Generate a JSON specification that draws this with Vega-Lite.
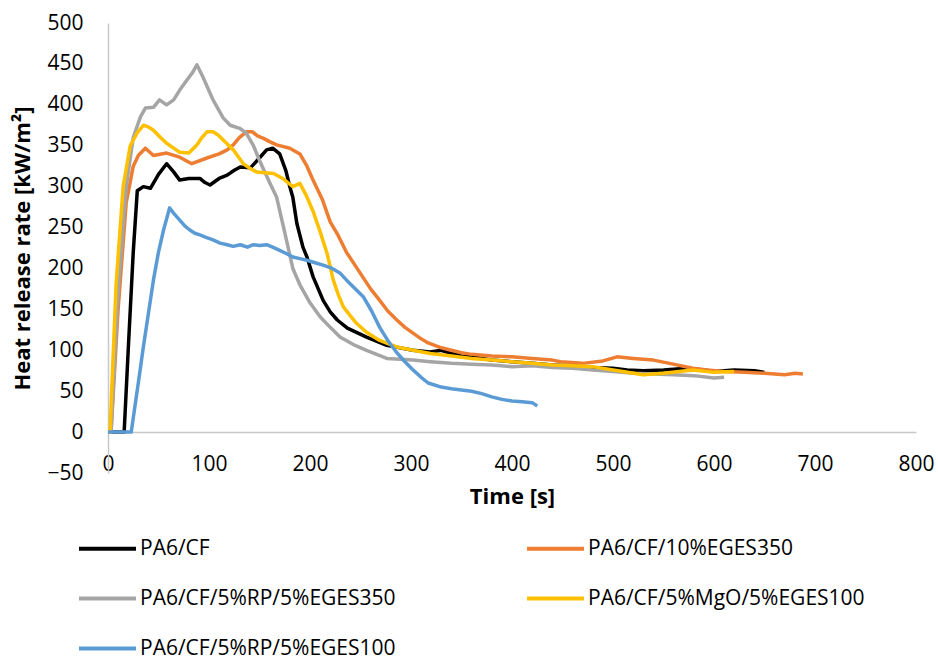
{
  "$schema": "https://vega.github.io/schema/vega-lite/v6.json",
  "width": 808,
  "height": 450,
  "autosize": {"type": "none"},
  "padding": {"left": 108, "top": 23, "right": 22, "bottom": 189},
  "config": {
    "font": "Open Sans",
    "view": {"stroke": null},
    "axis": {"grid": false, "ticks": false, "tickSize": 0, "labelColor": "#000000", "titleColor": "#000000", "domainColor": "#C8C8C8", "domainWidth": 1.5}
  },
  "datasets": {
    "hrr": [
      {"s":"PA6/CF","t":0,"v":0},{"s":"PA6/CF","t":10,"v":0},{"s":"PA6/CF","t":16,"v":0},{"s":"PA6/CF","t":20,"v":100},{"s":"PA6/CF","t":25,"v":220},{"s":"PA6/CF","t":29,"v":295},{"s":"PA6/CF","t":35,"v":300},{"s":"PA6/CF","t":42,"v":298},{"s":"PA6/CF","t":50,"v":315},{"s":"PA6/CF","t":58,"v":328},{"s":"PA6/CF","t":65,"v":318},{"s":"PA6/CF","t":71,"v":308},{"s":"PA6/CF","t":80,"v":310},{"s":"PA6/CF","t":91,"v":310},{"s":"PA6/CF","t":96,"v":305},{"s":"PA6/CF","t":101,"v":302},{"s":"PA6/CF","t":110,"v":310},{"s":"PA6/CF","t":118,"v":314},{"s":"PA6/CF","t":125,"v":320},{"s":"PA6/CF","t":131,"v":324},{"s":"PA6/CF","t":141,"v":323},{"s":"PA6/CF","t":150,"v":335},{"s":"PA6/CF","t":157,"v":345},{"s":"PA6/CF","t":163,"v":347},{"s":"PA6/CF","t":170,"v":340},{"s":"PA6/CF","t":176,"v":320},{"s":"PA6/CF","t":180,"v":300},{"s":"PA6/CF","t":183,"v":287},{"s":"PA6/CF","t":187,"v":255},{"s":"PA6/CF","t":193,"v":226},{"s":"PA6/CF","t":197,"v":214},{"s":"PA6/CF","t":203,"v":190},{"s":"PA6/CF","t":213,"v":161},{"s":"PA6/CF","t":220,"v":147},{"s":"PA6/CF","t":227,"v":137},{"s":"PA6/CF","t":237,"v":127},{"s":"PA6/CF","t":256,"v":116},{"s":"PA6/CF","t":276,"v":106},{"s":"PA6/CF","t":302,"v":100},{"s":"PA6/CF","t":319,"v":98},{"s":"PA6/CF","t":330,"v":100},{"s":"PA6/CF","t":340,"v":96},{"s":"PA6/CF","t":350,"v":93},{"s":"PA6/CF","t":360,"v":92},{"s":"PA6/CF","t":370,"v":90},{"s":"PA6/CF","t":380,"v":88},{"s":"PA6/CF","t":400,"v":86},{"s":"PA6/CF","t":420,"v":84},{"s":"PA6/CF","t":440,"v":82},{"s":"PA6/CF","t":460,"v":81},{"s":"PA6/CF","t":480,"v":79},{"s":"PA6/CF","t":500,"v":78},{"s":"PA6/CF","t":514,"v":76},{"s":"PA6/CF","t":530,"v":75},{"s":"PA6/CF","t":550,"v":76},{"s":"PA6/CF","t":573,"v":78},{"s":"PA6/CF","t":590,"v":76},{"s":"PA6/CF","t":600,"v":74},{"s":"PA6/CF","t":620,"v":76},{"s":"PA6/CF","t":640,"v":75},{"s":"PA6/CF","t":650,"v":73},
      {"s":"PA6/CF/10%EGES350","t":0,"v":0},{"s":"PA6/CF/10%EGES350","t":3,"v":0},{"s":"PA6/CF/10%EGES350","t":10,"v":150},{"s":"PA6/CF/10%EGES350","t":18,"v":280},{"s":"PA6/CF/10%EGES350","t":25,"v":325},{"s":"PA6/CF/10%EGES350","t":30,"v":338},{"s":"PA6/CF/10%EGES350","t":37,"v":347},{"s":"PA6/CF/10%EGES350","t":45,"v":338},{"s":"PA6/CF/10%EGES350","t":58,"v":341},{"s":"PA6/CF/10%EGES350","t":71,"v":336},{"s":"PA6/CF/10%EGES350","t":83,"v":328},{"s":"PA6/CF/10%EGES350","t":98,"v":335},{"s":"PA6/CF/10%EGES350","t":110,"v":340},{"s":"PA6/CF/10%EGES350","t":118,"v":345},{"s":"PA6/CF/10%EGES350","t":124,"v":351},{"s":"PA6/CF/10%EGES350","t":130,"v":360},{"s":"PA6/CF/10%EGES350","t":137,"v":367},{"s":"PA6/CF/10%EGES350","t":143,"v":367},{"s":"PA6/CF/10%EGES350","t":148,"v":362},{"s":"PA6/CF/10%EGES350","t":154,"v":359},{"s":"PA6/CF/10%EGES350","t":160,"v":355},{"s":"PA6/CF/10%EGES350","t":167,"v":351},{"s":"PA6/CF/10%EGES350","t":180,"v":347},{"s":"PA6/CF/10%EGES350","t":190,"v":340},{"s":"PA6/CF/10%EGES350","t":197,"v":325},{"s":"PA6/CF/10%EGES350","t":203,"v":308},{"s":"PA6/CF/10%EGES350","t":212,"v":285},{"s":"PA6/CF/10%EGES350","t":220,"v":257},{"s":"PA6/CF/10%EGES350","t":228,"v":240},{"s":"PA6/CF/10%EGES350","t":236,"v":220},{"s":"PA6/CF/10%EGES350","t":244,"v":205},{"s":"PA6/CF/10%EGES350","t":252,"v":190},{"s":"PA6/CF/10%EGES350","t":260,"v":175},{"s":"PA6/CF/10%EGES350","t":269,"v":161},{"s":"PA6/CF/10%EGES350","t":277,"v":148},{"s":"PA6/CF/10%EGES350","t":286,"v":137},{"s":"PA6/CF/10%EGES350","t":294,"v":128},{"s":"PA6/CF/10%EGES350","t":302,"v":121},{"s":"PA6/CF/10%EGES350","t":310,"v":114},{"s":"PA6/CF/10%EGES350","t":317,"v":109},{"s":"PA6/CF/10%EGES350","t":330,"v":103},{"s":"PA6/CF/10%EGES350","t":340,"v":100},{"s":"PA6/CF/10%EGES350","t":350,"v":97},{"s":"PA6/CF/10%EGES350","t":360,"v":95},{"s":"PA6/CF/10%EGES350","t":380,"v":93},{"s":"PA6/CF/10%EGES350","t":400,"v":92},{"s":"PA6/CF/10%EGES350","t":420,"v":90},{"s":"PA6/CF/10%EGES350","t":440,"v":88},{"s":"PA6/CF/10%EGES350","t":448,"v":86},{"s":"PA6/CF/10%EGES350","t":470,"v":84},{"s":"PA6/CF/10%EGES350","t":490,"v":87},{"s":"PA6/CF/10%EGES350","t":504,"v":92},{"s":"PA6/CF/10%EGES350","t":520,"v":90},{"s":"PA6/CF/10%EGES350","t":540,"v":88},{"s":"PA6/CF/10%EGES350","t":556,"v":84},{"s":"PA6/CF/10%EGES350","t":579,"v":78},{"s":"PA6/CF/10%EGES350","t":593,"v":76},{"s":"PA6/CF/10%EGES350","t":610,"v":74},{"s":"PA6/CF/10%EGES350","t":630,"v":73},{"s":"PA6/CF/10%EGES350","t":650,"v":72},{"s":"PA6/CF/10%EGES350","t":670,"v":70},{"s":"PA6/CF/10%EGES350","t":680,"v":72},{"s":"PA6/CF/10%EGES350","t":688,"v":71},
      {"s":"PA6/CF/5%RP/5%EGES350","t":0,"v":0},{"s":"PA6/CF/5%RP/5%EGES350","t":3,"v":0},{"s":"PA6/CF/5%RP/5%EGES350","t":10,"v":170},{"s":"PA6/CF/5%RP/5%EGES350","t":18,"v":300},{"s":"PA6/CF/5%RP/5%EGES350","t":25,"v":360},{"s":"PA6/CF/5%RP/5%EGES350","t":32,"v":385},{"s":"PA6/CF/5%RP/5%EGES350","t":37,"v":396},{"s":"PA6/CF/5%RP/5%EGES350","t":45,"v":397},{"s":"PA6/CF/5%RP/5%EGES350","t":51,"v":406},{"s":"PA6/CF/5%RP/5%EGES350","t":58,"v":400},{"s":"PA6/CF/5%RP/5%EGES350","t":65,"v":406},{"s":"PA6/CF/5%RP/5%EGES350","t":71,"v":418},{"s":"PA6/CF/5%RP/5%EGES350","t":78,"v":430},{"s":"PA6/CF/5%RP/5%EGES350","t":84,"v":440},{"s":"PA6/CF/5%RP/5%EGES350","t":88,"v":449},{"s":"PA6/CF/5%RP/5%EGES350","t":94,"v":434},{"s":"PA6/CF/5%RP/5%EGES350","t":99,"v":420},{"s":"PA6/CF/5%RP/5%EGES350","t":104,"v":406},{"s":"PA6/CF/5%RP/5%EGES350","t":109,"v":395},{"s":"PA6/CF/5%RP/5%EGES350","t":114,"v":384},{"s":"PA6/CF/5%RP/5%EGES350","t":121,"v":375},{"s":"PA6/CF/5%RP/5%EGES350","t":131,"v":371},{"s":"PA6/CF/5%RP/5%EGES350","t":137,"v":365},{"s":"PA6/CF/5%RP/5%EGES350","t":144,"v":350},{"s":"PA6/CF/5%RP/5%EGES350","t":150,"v":332},{"s":"PA6/CF/5%RP/5%EGES350","t":160,"v":305},{"s":"PA6/CF/5%RP/5%EGES350","t":167,"v":287},{"s":"PA6/CF/5%RP/5%EGES350","t":177,"v":233},{"s":"PA6/CF/5%RP/5%EGES350","t":183,"v":200},{"s":"PA6/CF/5%RP/5%EGES350","t":190,"v":180},{"s":"PA6/CF/5%RP/5%EGES350","t":200,"v":158},{"s":"PA6/CF/5%RP/5%EGES350","t":210,"v":141},{"s":"PA6/CF/5%RP/5%EGES350","t":220,"v":128},{"s":"PA6/CF/5%RP/5%EGES350","t":230,"v":116},{"s":"PA6/CF/5%RP/5%EGES350","t":243,"v":107},{"s":"PA6/CF/5%RP/5%EGES350","t":256,"v":100},{"s":"PA6/CF/5%RP/5%EGES350","t":266,"v":95},{"s":"PA6/CF/5%RP/5%EGES350","t":276,"v":90},{"s":"PA6/CF/5%RP/5%EGES350","t":290,"v":89},{"s":"PA6/CF/5%RP/5%EGES350","t":302,"v":88},{"s":"PA6/CF/5%RP/5%EGES350","t":319,"v":86},{"s":"PA6/CF/5%RP/5%EGES350","t":340,"v":84},{"s":"PA6/CF/5%RP/5%EGES350","t":360,"v":83},{"s":"PA6/CF/5%RP/5%EGES350","t":380,"v":82},{"s":"PA6/CF/5%RP/5%EGES350","t":400,"v":80},{"s":"PA6/CF/5%RP/5%EGES350","t":420,"v":81},{"s":"PA6/CF/5%RP/5%EGES350","t":440,"v":79},{"s":"PA6/CF/5%RP/5%EGES350","t":460,"v":78},{"s":"PA6/CF/5%RP/5%EGES350","t":480,"v":76},{"s":"PA6/CF/5%RP/5%EGES350","t":500,"v":74},{"s":"PA6/CF/5%RP/5%EGES350","t":520,"v":72},{"s":"PA6/CF/5%RP/5%EGES350","t":540,"v":71},{"s":"PA6/CF/5%RP/5%EGES350","t":560,"v":70},{"s":"PA6/CF/5%RP/5%EGES350","t":580,"v":69},{"s":"PA6/CF/5%RP/5%EGES350","t":600,"v":66},{"s":"PA6/CF/5%RP/5%EGES350","t":610,"v":67},
      {"s":"PA6/CF/5%MgO/5%EGES100","t":0,"v":0},{"s":"PA6/CF/5%MgO/5%EGES100","t":2,"v":0},{"s":"PA6/CF/5%MgO/5%EGES100","t":8,"v":180},{"s":"PA6/CF/5%MgO/5%EGES100","t":15,"v":300},{"s":"PA6/CF/5%MgO/5%EGES100","t":22,"v":350},{"s":"PA6/CF/5%MgO/5%EGES100","t":29,"v":366},{"s":"PA6/CF/5%MgO/5%EGES100","t":35,"v":375},{"s":"PA6/CF/5%MgO/5%EGES100","t":40,"v":373},{"s":"PA6/CF/5%MgO/5%EGES100","t":45,"v":369},{"s":"PA6/CF/5%MgO/5%EGES100","t":52,"v":360},{"s":"PA6/CF/5%MgO/5%EGES100","t":58,"v":353},{"s":"PA6/CF/5%MgO/5%EGES100","t":65,"v":347},{"s":"PA6/CF/5%MgO/5%EGES100","t":71,"v":342},{"s":"PA6/CF/5%MgO/5%EGES100","t":80,"v":341},{"s":"PA6/CF/5%MgO/5%EGES100","t":88,"v":351},{"s":"PA6/CF/5%MgO/5%EGES100","t":93,"v":360},{"s":"PA6/CF/5%MgO/5%EGES100","t":98,"v":367},{"s":"PA6/CF/5%MgO/5%EGES100","t":104,"v":367},{"s":"PA6/CF/5%MgO/5%EGES100","t":109,"v":363},{"s":"PA6/CF/5%MgO/5%EGES100","t":114,"v":357},{"s":"PA6/CF/5%MgO/5%EGES100","t":124,"v":345},{"s":"PA6/CF/5%MgO/5%EGES100","t":134,"v":328},{"s":"PA6/CF/5%MgO/5%EGES100","t":141,"v":322},{"s":"PA6/CF/5%MgO/5%EGES100","t":147,"v":318},{"s":"PA6/CF/5%MgO/5%EGES100","t":155,"v":317},{"s":"PA6/CF/5%MgO/5%EGES100","t":164,"v":316},{"s":"PA6/CF/5%MgO/5%EGES100","t":173,"v":310},{"s":"PA6/CF/5%MgO/5%EGES100","t":178,"v":305},{"s":"PA6/CF/5%MgO/5%EGES100","t":183,"v":300},{"s":"PA6/CF/5%MgO/5%EGES100","t":190,"v":304},{"s":"PA6/CF/5%MgO/5%EGES100","t":196,"v":290},{"s":"PA6/CF/5%MgO/5%EGES100","t":203,"v":270},{"s":"PA6/CF/5%MgO/5%EGES100","t":210,"v":245},{"s":"PA6/CF/5%MgO/5%EGES100","t":217,"v":218},{"s":"PA6/CF/5%MgO/5%EGES100","t":223,"v":186},{"s":"PA6/CF/5%MgO/5%EGES100","t":228,"v":168},{"s":"PA6/CF/5%MgO/5%EGES100","t":233,"v":153},{"s":"PA6/CF/5%MgO/5%EGES100","t":240,"v":142},{"s":"PA6/CF/5%MgO/5%EGES100","t":246,"v":133},{"s":"PA6/CF/5%MgO/5%EGES100","t":256,"v":122},{"s":"PA6/CF/5%MgO/5%EGES100","t":269,"v":112},{"s":"PA6/CF/5%MgO/5%EGES100","t":286,"v":104},{"s":"PA6/CF/5%MgO/5%EGES100","t":302,"v":100},{"s":"PA6/CF/5%MgO/5%EGES100","t":319,"v":96},{"s":"PA6/CF/5%MgO/5%EGES100","t":340,"v":93},{"s":"PA6/CF/5%MgO/5%EGES100","t":360,"v":90},{"s":"PA6/CF/5%MgO/5%EGES100","t":380,"v":88},{"s":"PA6/CF/5%MgO/5%EGES100","t":400,"v":86},{"s":"PA6/CF/5%MgO/5%EGES100","t":420,"v":84},{"s":"PA6/CF/5%MgO/5%EGES100","t":440,"v":82},{"s":"PA6/CF/5%MgO/5%EGES100","t":460,"v":81},{"s":"PA6/CF/5%MgO/5%EGES100","t":480,"v":80},{"s":"PA6/CF/5%MgO/5%EGES100","t":500,"v":76},{"s":"PA6/CF/5%MgO/5%EGES100","t":530,"v":70},{"s":"PA6/CF/5%MgO/5%EGES100","t":550,"v":72},{"s":"PA6/CF/5%MgO/5%EGES100","t":579,"v":76},{"s":"PA6/CF/5%MgO/5%EGES100","t":600,"v":73},{"s":"PA6/CF/5%MgO/5%EGES100","t":620,"v":74},
      {"s":"PA6/CF/5%RP/5%EGES100","t":0,"v":0},{"s":"PA6/CF/5%RP/5%EGES100","t":10,"v":0},{"s":"PA6/CF/5%RP/5%EGES100","t":23,"v":0},{"s":"PA6/CF/5%RP/5%EGES100","t":30,"v":60},{"s":"PA6/CF/5%RP/5%EGES100","t":35,"v":104},{"s":"PA6/CF/5%RP/5%EGES100","t":40,"v":145},{"s":"PA6/CF/5%RP/5%EGES100","t":45,"v":186},{"s":"PA6/CF/5%RP/5%EGES100","t":50,"v":220},{"s":"PA6/CF/5%RP/5%EGES100","t":55,"v":247},{"s":"PA6/CF/5%RP/5%EGES100","t":61,"v":274},{"s":"PA6/CF/5%RP/5%EGES100","t":66,"v":266},{"s":"PA6/CF/5%RP/5%EGES100","t":71,"v":259},{"s":"PA6/CF/5%RP/5%EGES100","t":76,"v":252},{"s":"PA6/CF/5%RP/5%EGES100","t":81,"v":247},{"s":"PA6/CF/5%RP/5%EGES100","t":86,"v":243},{"s":"PA6/CF/5%RP/5%EGES100","t":91,"v":241},{"s":"PA6/CF/5%RP/5%EGES100","t":97,"v":238},{"s":"PA6/CF/5%RP/5%EGES100","t":104,"v":235},{"s":"PA6/CF/5%RP/5%EGES100","t":111,"v":231},{"s":"PA6/CF/5%RP/5%EGES100","t":118,"v":229},{"s":"PA6/CF/5%RP/5%EGES100","t":124,"v":227},{"s":"PA6/CF/5%RP/5%EGES100","t":131,"v":229},{"s":"PA6/CF/5%RP/5%EGES100","t":138,"v":226},{"s":"PA6/CF/5%RP/5%EGES100","t":144,"v":229},{"s":"PA6/CF/5%RP/5%EGES100","t":150,"v":228},{"s":"PA6/CF/5%RP/5%EGES100","t":157,"v":229},{"s":"PA6/CF/5%RP/5%EGES100","t":163,"v":226},{"s":"PA6/CF/5%RP/5%EGES100","t":170,"v":222},{"s":"PA6/CF/5%RP/5%EGES100","t":177,"v":218},{"s":"PA6/CF/5%RP/5%EGES100","t":183,"v":214},{"s":"PA6/CF/5%RP/5%EGES100","t":190,"v":212},{"s":"PA6/CF/5%RP/5%EGES100","t":197,"v":210},{"s":"PA6/CF/5%RP/5%EGES100","t":205,"v":207},{"s":"PA6/CF/5%RP/5%EGES100","t":213,"v":204},{"s":"PA6/CF/5%RP/5%EGES100","t":222,"v":200},{"s":"PA6/CF/5%RP/5%EGES100","t":230,"v":194},{"s":"PA6/CF/5%RP/5%EGES100","t":236,"v":186},{"s":"PA6/CF/5%RP/5%EGES100","t":244,"v":176},{"s":"PA6/CF/5%RP/5%EGES100","t":253,"v":165},{"s":"PA6/CF/5%RP/5%EGES100","t":261,"v":148},{"s":"PA6/CF/5%RP/5%EGES100","t":269,"v":128},{"s":"PA6/CF/5%RP/5%EGES100","t":277,"v":112},{"s":"PA6/CF/5%RP/5%EGES100","t":286,"v":97},{"s":"PA6/CF/5%RP/5%EGES100","t":294,"v":86},{"s":"PA6/CF/5%RP/5%EGES100","t":302,"v":76},{"s":"PA6/CF/5%RP/5%EGES100","t":310,"v":67},{"s":"PA6/CF/5%RP/5%EGES100","t":317,"v":60},{"s":"PA6/CF/5%RP/5%EGES100","t":330,"v":55},{"s":"PA6/CF/5%RP/5%EGES100","t":340,"v":53},{"s":"PA6/CF/5%RP/5%EGES100","t":360,"v":50},{"s":"PA6/CF/5%RP/5%EGES100","t":370,"v":47},{"s":"PA6/CF/5%RP/5%EGES100","t":380,"v":43},{"s":"PA6/CF/5%RP/5%EGES100","t":390,"v":40},{"s":"PA6/CF/5%RP/5%EGES100","t":400,"v":38},{"s":"PA6/CF/5%RP/5%EGES100","t":410,"v":37},{"s":"PA6/CF/5%RP/5%EGES100","t":420,"v":36},{"s":"PA6/CF/5%RP/5%EGES100","t":425,"v":32}
    ]
  },
  "data": {"name": "hrr"},
  "mark": {"type": "line", "strokeWidth": 3.5, "strokeJoin": "round"},
  "encoding": {
    "x": {
      "field": "t", "type": "quantitative",
      "scale": {"domain": [0, 800], "nice": false, "zero": false},
      "axis": {"title": "Time [s]", "values": [0,100,200,300,400,500,600,700,800], "offset": -41, "labelPadding": 21, "labelFontSize": 21, "titleFontSize": 22, "titleFontWeight": "bold", "titlePadding": 12, "labelFlush": false}
    },
    "y": {
      "field": "v", "type": "quantitative",
      "scale": {"domain": [-50, 500], "nice": false, "zero": false},
      "axis": {"title": "Heat release rate [kW/m²]", "values": [-50,0,50,100,150,200,250,300,350,400,450,500], "labelPadding": 25, "labelFontSize": 21, "titleFontSize": 22, "titleFontWeight": "bold", "titlePadding": 12}
    },
    "color": {
      "field": "s", "type": "nominal",
      "scale": {
        "domain": ["PA6/CF", "PA6/CF/10%EGES350", "PA6/CF/5%RP/5%EGES350", "PA6/CF/5%MgO/5%EGES100", "PA6/CF/5%RP/5%EGES100"],
        "range": ["#000000", "#ED7D31", "#A5A5A5", "#FFC000", "#5B9BD5"]
      },
      "legend": {"title": null, "orient": "none", "direction": "horizontal", "legendX": -31, "legendY": 495, "columns": 2, "symbolType": "stroke", "symbolSize": 3249, "symbolStrokeWidth": 4, "labelFontSize": 21, "labelColor": "#000000", "labelOffset": 2, "columnPadding": 123, "rowPadding": 9, "labelLimit": 400}
    }
  }
}
